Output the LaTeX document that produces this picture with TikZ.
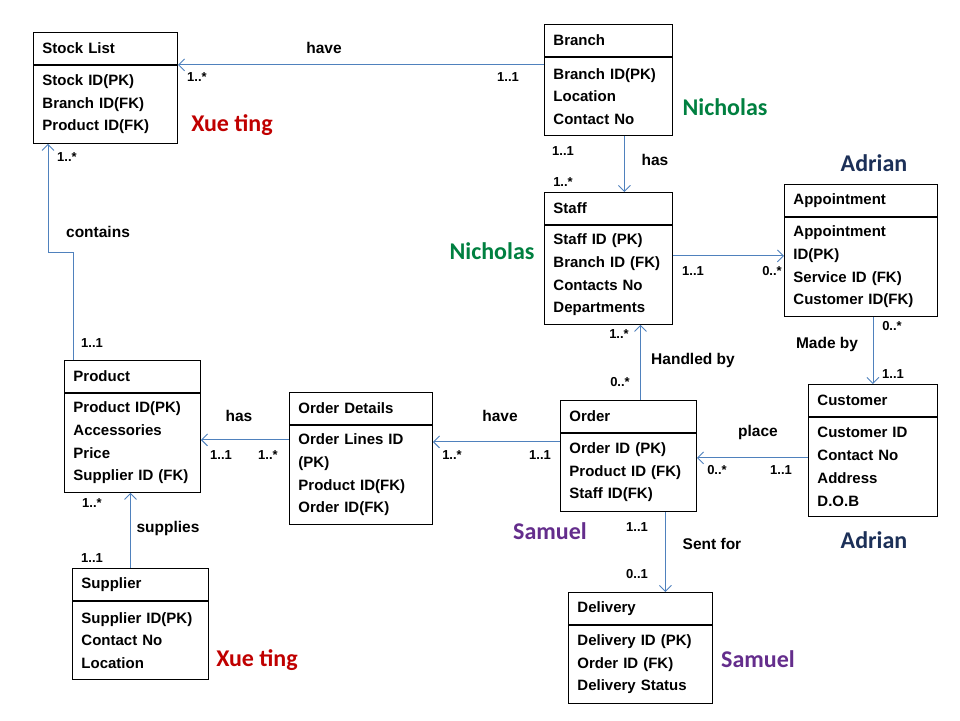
\documentclass[tikz,border=0pt]{standalone}
\usepackage{fontspec}
\setmainfont{Liberation Sans}
\newfontfamily\namefont{Carlito}
\usetikzlibrary{arrows.meta}

\definecolor{relblue}{RGB}{79,129,189}
\definecolor{xtred}{RGB}{192,0,0}
\definecolor{nicgreen}{RGB}{0,128,64}
\definecolor{adnavy}{RGB}{28,48,88}
\definecolor{sampurple}{RGB}{100,45,140}

\begin{document}
\begin{tikzpicture}[x=1pt,y=-1pt,
  hd/.style={draw,line width=0.9pt,anchor=north west,minimum height=32pt,inner xsep=9pt,
    text width=#1,align=left,font=\fontsize{15}{18}\selectfont\bfseries},
  bd/.style={draw,line width=0.9pt,anchor=north west,inner xsep=9pt,inner ysep=4pt,
    text width=#1,align=left,font=\fontsize{15}{22.7}\selectfont\bfseries},
  three/.style={minimum height=78pt},
  four/.style={minimum height=99pt},
  rel/.style={draw=relblue,line width=0.9pt,-{Straight Barb[length=6pt,width=12pt]}},
  lbl/.style={font=\fontsize{15.5}{18}\selectfont\bfseries},
  mult/.style={font=\fontsize{13}{14}\selectfont\bfseries},
  who/.style={font=\namefont\fontsize{24}{28}\selectfont\bfseries}]
  \fill[white] (0,0) rectangle (960,720);
  \useasboundingbox (0,0) rectangle (960,720);

  % entities
  \node[hd=126] (stock) at (33,32) {Stock List};
  \node[bd=126,three] (stockB) at (stock.south west) {Stock ID(PK)\\Branch ID(FK)\\Product ID(FK)};
  \node[hd=110] (branch) at (544,24) {Branch};
  \node[bd=110,three] (branchB) at (branch.south west) {Branch ID(PK)\\Location\\Contact No};
  \node[hd=110] (staff) at (544,192) {Staff};
  \node[bd=110,four] (staffB) at (staff.south west) {Staff ID (PK)\\Branch ID (FK)\\Contacts No\\Departments};
  \node[hd=135] (appt) at (784,184) {Appointment};
  \node[bd=135,four] (apptB) at (appt.south west) {Appointment\\ID(PK)\\Service ID (FK)\\Customer ID(FK)};
  \node[hd=111] (cust) at (808,384) {Customer};
  \node[bd=111,four] (custB) at (cust.south west) {Customer ID\\Contact No\\Address\\D.O.B};
  \node[hd=118] (order) at (560,400) {Order};
  \node[bd=118,three] (orderB) at (order.south west) {Order ID (PK)\\Product ID (FK)\\Staff ID(FK)};
  \node[hd=126] (deliv) at (568,592) {Delivery};
  \node[bd=126,three] (delivB) at (deliv.south west) {Delivery ID (PK)\\Order ID (FK)\\Delivery Status};
  \node[hd=125] (det) at (289,392) {Order Details};
  \node[bd=125,four] (detB) at (det.south west) {Order Lines ID\\(PK)\\Product ID(FK)\\Order ID(FK)};
  \node[hd=118] (prod) at (64,360) {Product};
  \node[bd=118,four] (prodB) at (prod.south west) {Product ID(PK)\\Accessories\\Price\\Supplier ID (FK)};
  \node[hd=118] (supp) at (72,568) {Supplier};
  \node[bd=118,three] (suppB) at (supp.south west) {Supplier ID(PK)\\Contact No\\Location};

  % relationships
  \draw[rel] (stock.south east -| branchB.west) -- (stock.south east);
  \draw[rel] ([xshift=16]branchB.south) -- ([xshift=16]staff.north);
  \coordinate (s1) at ([yshift=-31]staffB.north east);
  \draw[rel] (s1) -- (s1 -| apptB.west);
  \draw[rel] (cust.north |- apptB.south) -- (cust.north);
  \coordinate (o1) at ([yshift=-25]orderB.north east);
  \draw[rel] (o1 -| custB.west) -- (o1);
  \coordinate (o2) at ([xshift=12]order.north);
  \draw[rel] (o2) -- (o2 |- staffB.south);
  \coordinate (o3) at ([yshift=-9]orderB.north west);
  \draw[rel] (o3) -- (o3 -| detB.east);
  \coordinate (d1) at ([yshift=-15]detB.north west);
  \draw[rel] (d1) -- (d1 -| prodB.east);
  \coordinate (o4) at ([xshift=37]orderB.south);
  \draw[rel] (o4) -- (o4 |- deliv.north);
  \coordinate (s2) at ([xshift=-10]supp.north);
  \draw[rel] (s2) -- (s2 |- prodB.south);
  \coordinate (p1) at ([xshift=9]prod.north west);
  \coordinate (k1) at ([xshift=15]stockB.south west);
  \draw[rel] (p1) -- ++(0,-108) -| (k1);

  % relationship names
  \foreach \n/\x/\y/\t in {l1/324/48/have, l2/655/160/has, l3/827/344/Made by,
      l4/758/432/place, l5/693/360/Handled by, l6/500/416/have, l7/239/416/has,
      l8/712/544/Sent for, l9/168/528/supplies, l10/98/232/contains}
    \node[lbl] (\n) at (\x,\y) {\t};

  % multiplicities
  \foreach \n/\x/\y/\t in {ma/197/77/1..*, mb/508/77/1..1, mc/563/151/1..1, md/563/182/1..*,
      me/693/271/1..1, mf/772/271/0..*, mg/892/326/0..*, mh/893/374/1..1,
      mi/717/470/0..*, mj/781/470/1..1, mk/619/334/1..*, ml/620/382/0..*,
      mm/452/455/1..*, mn/540/455/1..1, mo/221/455/1..1, mp/268/455/1..*,
      mq/637/527/1..1, mr/637/574/0..1, ms/92/503/1..*, mt/92/558/1..1,
      mu/67/157/1..*, mv/92/343/1..1}
    \node[mult] (\n) at (\x,\y) {\t};

  % who did what
  \foreach \n/\x/\y/\c/\t in {w1/232/125/xtred/Xue ting, w2/257/660/xtred/Xue ting,
      w3/725/107/nicgreen/Nicholas, w4/492/251/nicgreen/Nicholas,
      w5/874/163/adnavy/Adrian, w6/874/540/adnavy/Adrian,
      w7/550/531/sampurple/Samuel, w8/758/659/sampurple/Samuel}
    \node[who,text=\c] (\n) at (\x,\y) {\t};
\end{tikzpicture}
\end{document}
